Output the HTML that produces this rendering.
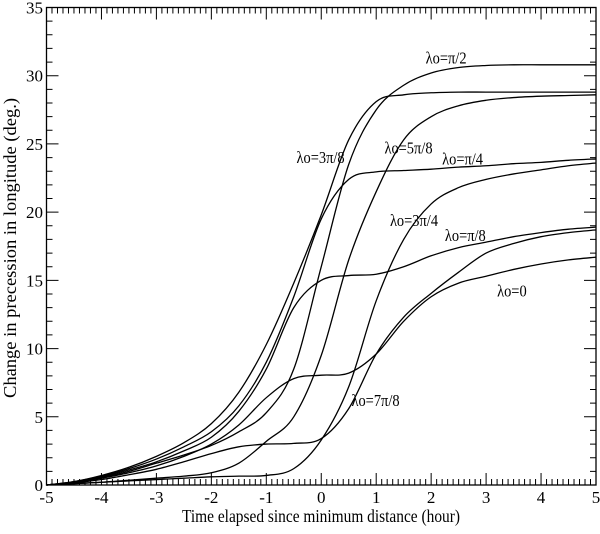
<!DOCTYPE html>
<html><head><meta charset="utf-8"><style>
body{margin:0;background:#fff}
svg text{font-family:"Liberation Serif",serif;fill:#000}
</style></head><body>
<svg id="chart" width="600" height="529" viewBox="0 0 600 529" xmlns="http://www.w3.org/2000/svg">
<rect x="0" y="0" width="600" height="529" fill="#fff"/>
<g id="ticks"></g>
<g id="series"></g>
<rect x="46.5" y="7.5" width="549.5" height="477.5" fill="none" stroke="#000" stroke-width="1.3"/>
<g id="labels" font-size="17"></g>
<text x="321" y="522" font-size="18" text-anchor="middle" textLength="278" lengthAdjust="spacingAndGlyphs">Time elapsed since minimum distance (hour)</text>
<text transform="translate(16,248) rotate(-90)" font-size="18" text-anchor="middle" textLength="300" lengthAdjust="spacingAndGlyphs">Change in precession in longitude (deg.)</text>
<g id="annot" font-size="17"></g>
</svg>
<script>
const xs = [-5,-4.5,-4,-3.5,-3,-2.5,-2,-1.5,-1,-0.5,0,0.5,1,1.5,2,2.5,3,3.5,4,4.5,5];
const s_0 = [0,0.2,0.5,0.9,1.4,2.1,3,4.4,6.4,7.8,8.05,8.2,9.6,12,13.8,14.8,15.3,15.8,16.2,16.5,16.7];
const s_pi8 = [0,0.2,0.6,1.1,1.7,2.5,3.5,5.4,8.5,13,15,15.35,15.45,16,16.8,17.4,17.8,18.2,18.5,18.75,18.9];
const s_pi4 = [0,0.25,0.65,1.2,1.9,2.8,3.9,5.8,9,13.8,19.5,22.4,22.95,23.05,23.15,23.3,23.4,23.55,23.65,23.8,23.9];
const s_3pi8 = [0,0.25,0.7,1.3,2.1,3.1,4.5,6.8,10.3,14.8,19.8,25.3,28.1,28.6,28.75,28.8,28.8,28.8,28.8,28.8,28.8];
const s_pi2 = [0,0.2,0.55,1,1.6,2.2,2.9,3.9,5.3,8.5,16,23.5,27.5,29.3,30.2,30.6,30.75,30.8,30.8,30.8,30.8];
const s_5pi8 = [0,0.1,0.2,0.35,0.5,0.65,0.9,1.6,3.2,5,9.5,16.5,21.5,25.3,27,27.8,28.2,28.4,28.5,28.55,28.6];
const s_3pi4 = [0,0.1,0.2,0.3,0.4,0.5,0.6,0.65,0.7,1.2,3.3,7.2,13.5,18,20.6,21.8,22.4,22.8,23.1,23.4,23.6];
const s_7pi8 = [0,0.15,0.4,0.75,1.15,1.7,2.3,2.8,3.0,3.05,3.4,5.6,9.6,12.3,14.05,15.6,17,17.7,18.2,18.5,18.7];
const seriesNames = ["lambda-0","lambda-pi-8","lambda-pi-4","lambda-3pi-8","lambda-pi-2","lambda-5pi-8","lambda-3pi-4","lambda-7pi-8"];
const seriesVals = [s_0,s_pi8,s_pi4,s_3pi8,s_pi2,s_5pi8,s_3pi4,s_7pi8];
const xTicks = [-5,-4,-3,-2,-1,0,1,2,3,4,5];
const yTicks = [0,5,10,15,20,25,30,35];
const annotText = ["λo=π/2","λo=3π/8","λo=5π/8","λo=π/4","λo=3π/4","λo=π/8","λo=0","λo=7π/8"];
const annotX = [1.9,-0.45,1.15,2.2,1.25,2.25,3.2,0.55];
const annotY = [30.9,23.6,24.3,23.5,19,17.9,13.8,5.8];

const NS="http://www.w3.org/2000/svg";
const X0=46.5,X1=596,Y0=485,Y1=7.5;
const sx=v=>X0+(v+5)/10*(X1-X0);
const sy=v=>Y0-v/35*(Y0-Y1);
function mk(tag,parent){const e=document.createElementNS(NS,tag);document.getElementById(parent).appendChild(e);return e;}

let d="";
for(let i=0;i<=100;i++){const v=-5+i*0.1;const x=sx(v).toFixed(2);const L=(i%10===0)?12:6;
 d+=`M${x} ${Y0}V${Y0-L}M${x} ${Y1}V${Y1+L}`;}
for(let i=0;i<=35;i++){const y=sy(i).toFixed(2);const L=(i%5===0)?12:6;
 d+=`M${X0} ${y}H${X0+L}M${X1} ${y}H${X1-L}`;}
const tp=mk("path","ticks");


tp.setAttribute("d",d);tp.setAttribute("stroke","#000");tp.setAttribute("stroke-width","1");

xTicks.forEach(v=>{const t=mk("text","labels");
 
 
 t.setAttribute("x",sx(v));t.setAttribute("y",503);t.setAttribute("text-anchor","middle");t.textContent=String(v);});
yTicks.forEach(v=>{const t=mk("text","labels");
 
 
 t.setAttribute("x",43);t.setAttribute("y",sy(v)+6);t.setAttribute("text-anchor","end");t.textContent=String(v);});

function pathFor(vals){const p=xs.map((x,i)=>[sx(x),sy(vals[i])]);
 let s=`M${p[0][0].toFixed(2)} ${p[0][1].toFixed(2)}`;
 for(let i=0;i<p.length-1;i++){const a=p[Math.max(0,i-1)],b=p[i],c=p[i+1],e=p[Math.min(p.length-1,i+2)];
  const c1=[b[0]+(c[0]-a[0])/6,b[1]+(c[1]-a[1])/6],c2=[c[0]-(e[0]-b[0])/6,c[1]-(e[1]-b[1])/6];
  s+=`C${c1[0].toFixed(2)} ${c1[1].toFixed(2)} ${c2[0].toFixed(2)} ${c2[1].toFixed(2)} ${c[0].toFixed(2)} ${c[1].toFixed(2)}`;}
 return s;}
seriesVals.forEach((vals,k)=>{const p=mk("path","series");
 
 
 p.setAttribute("d",pathFor(vals));p.setAttribute("fill","none");p.setAttribute("stroke","#000");p.setAttribute("stroke-width","1.3");});

annotText.forEach((txt,k)=>{const t=mk("text","annot");
 
 
 t.setAttribute("x",sx(annotX[k]));t.setAttribute("y",sy(annotY[k]));t.textContent=txt;
 const w=t.getComputedTextLength();
 if(w>0){t.setAttribute("textLength",(w*0.85).toFixed(1));t.setAttribute("lengthAdjust","spacingAndGlyphs");}
});
</script>
</body></html>
